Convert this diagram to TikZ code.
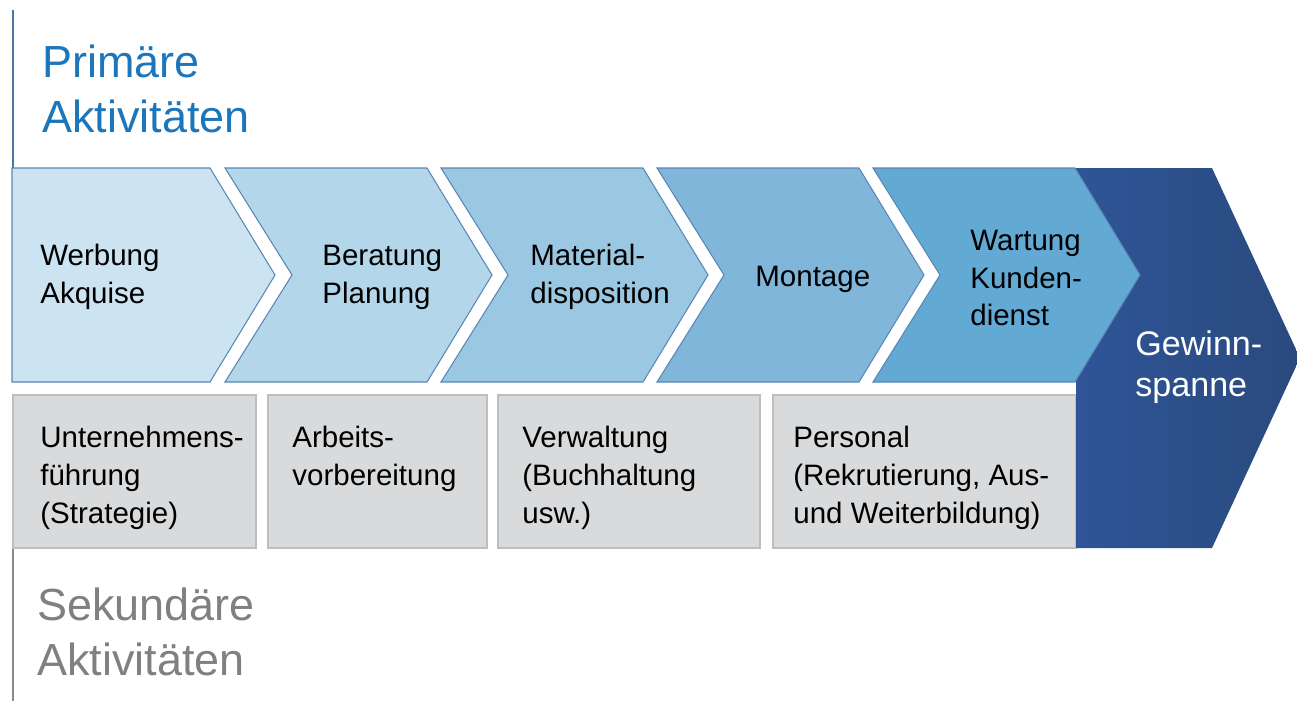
\documentclass[tikz,border=0pt]{standalone}
\usepackage{fontspec}
\setmainfont{Liberation Sans}
\usetikzlibrary{positioning}

\definecolor{chevA}{HTML}{CCE3F1}
\definecolor{chevB}{HTML}{B3D6EA}
\definecolor{chevC}{HTML}{9AC8E2}
\definecolor{chevD}{HTML}{7FB6DA}
\definecolor{chevE}{HTML}{62A9D3}
\definecolor{chevEdge}{HTML}{5A86B3}
\definecolor{marginL}{HTML}{2F5597}
\definecolor{marginR}{HTML}{2A4A7E}
\definecolor{supportFill}{HTML}{D9DADC}
\definecolor{supportEdge}{HTML}{BDBEC0}
\definecolor{primBlue}{HTML}{1B76BC}
\definecolor{secGray}{HTML}{808080}
\definecolor{axisBlue}{HTML}{4A75A3}
\definecolor{axisGray}{HTML}{8A8A8A}

\begin{document}
\begin{tikzpicture}[
  x=0.02cm, y=-0.02cm,
  chevronShape/.style={draw=chevEdge, line width=0.6pt},
  supportBox/.style={draw=supportEdge, fill=supportFill, line width=0.8pt},
  stepLabel/.style={anchor=west, align=left, inner sep=0pt,
                    font=\fontsize{16.8}{21.6}\selectfont},
  titleText/.style={anchor=west, align=left, inner sep=0pt,
                    font=\fontsize{25.6}{31}\selectfont}
]
  \useasboundingbox (0,0) rectangle (1297,701);

  % axis lines on the left
  \draw[axisBlue, line width=1.2pt] (13,10) -- (13,382);
  \draw[axisGray, line width=1.2pt] (13,395) -- (13,701);

  % support activities
  \foreach \xa/\xb in {13/256, 268/487, 498/760, 773/1076} {
    \draw[supportBox] (\xa,395) rectangle (\xb,548);
  }

  % profit margin arrow
  \draw[left color=marginL, right color=marginR, draw=none]
    (1076,168) -- (1212,168) -- (1300,358) -- (1212,548) -- (1076,548) -- cycle;

  % primary activities
  \draw[chevronShape, fill=chevA]
    (12,168) -- (210,168) -- (275,275) -- (210,382) -- (12,382) -- cycle;
  \foreach \x/\c in {225/chevB, 441/chevC, 657/chevD, 873/chevE} {
    \draw[chevronShape, fill=\c] (\x,168) -- ++(202,0) -- ++(65,107)
      -- ++(-65,107) -- ++(-202,0) -- ++(67,-107) -- cycle;
  }

  % headings
  \node[titleText, text=primBlue] (prim) at (42,89) {Primäre\\Aktivitäten};
  \node[titleText, text=secGray] (sek) at (37,632) {Sekundäre\\Aktivitäten};

  % step labels
  \node[stepLabel] (werbung) at (40,277) {Werbung\\Akquise};
  \node[stepLabel] (beratung) at (322,277) {Beratung\\Planung};
  \node[stepLabel] (material) at (530,277) {Material-\\disposition};
  \node[stepLabel] (montage) at (755,279) {Montage};
  \node[stepLabel] (wartung) at (970,278) {Wartung\\Kunden-\\dienst};
  \node[stepLabel, text=white, font=\fontsize{19.4}{23.6}\selectfont]
    (gewinn) at (1135,367) {Gewinn-\\spanne};

  \node[stepLabel] (fuehrung) at (40,478) {Unternehmens-\\führung\\(Strategie)};
  \node[stepLabel] (arbeit) at (292,459) {Arbeits-\\vorbereitung};
  \node[stepLabel] (verwalt) at (522,478) {Verwaltung\\(Buchhaltung\\usw.)};
  \node[stepLabel] (personal) at (793,478) {Personal\\(Rekrutierung, Aus-\\und Weiterbildung)};
\end{tikzpicture}
\end{document}
